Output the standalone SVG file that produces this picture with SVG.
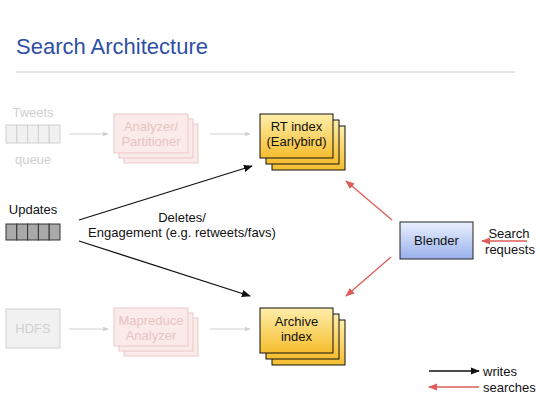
<svg xmlns="http://www.w3.org/2000/svg" width="540" height="400" viewBox="0 0 540 400">
<defs>
<linearGradient id="gold" x1="0" y1="0" x2="0" y2="1"><stop offset="0" stop-color="#ffeeaa"/><stop offset="1" stop-color="#f5bd2e"/></linearGradient>
<linearGradient id="blue" x1="0" y1="0" x2="0" y2="1"><stop offset="0" stop-color="#eaf0fd"/><stop offset="1" stop-color="#98b0ec"/></linearGradient>
<marker id="ab" viewBox="0 0 10 10" refX="9" refY="5" markerWidth="7" markerHeight="7" orient="auto"><path d="M0,1 L10,5 L0,9 z" fill="#111"/></marker>
<marker id="ar" viewBox="0 0 10 10" refX="9" refY="5" markerWidth="7" markerHeight="7" orient="auto"><path d="M0,1 L10,5 L0,9 z" fill="#dd5e58"/></marker>
<marker id="ag" viewBox="0 0 10 10" refX="9" refY="5" markerWidth="6" markerHeight="6" orient="auto"><path d="M0,1 L10,5 L0,9 z" fill="#d0d0d0"/></marker>
<style>
text{font-family:"Liberation Sans",Arial,sans-serif;font-size:13px;text-anchor:middle;fill:#111}
.t{font-size:22px;fill:#2f4ea6;text-anchor:start}
.fg{fill:#cfcfcf}
.fp{fill:#e8c3c3}
.gcell{fill:#f1f1f1;stroke:#d0d0d0;stroke-width:1}
.dcell{fill:#a9a9a9;stroke:#333;stroke-width:1}
.pbox{fill:#fbeaea;stroke:#ecc9c9;stroke-width:1}
.ybox{fill:url(#gold);stroke:#111;stroke-width:1}
.bbox{fill:url(#blue);stroke:#222;stroke-width:1}
.w{stroke:#111;stroke-width:1.3;fill:none;marker-end:url(#ab)}
.s{stroke:#dd5e58;stroke-width:1.3;fill:none;marker-end:url(#ar)}
.g{stroke:#d0d0d0;stroke-width:1;fill:none;marker-end:url(#ag)}
</style>
</defs>
<rect width="540" height="400" fill="#fff"/>
<text class="t" x="16" y="54">Search Architecture</text>
<line x1="16" y1="72" x2="515" y2="72" stroke="#cccccc" stroke-width="1"/>

<g id="tweets">
<text class="fg" x="33" y="117">Tweets</text>
<rect class="gcell" x="6" y="125" width="10.8" height="18"/><rect class="gcell" x="16.8" y="125" width="10.8" height="18"/><rect class="gcell" x="27.6" y="125" width="10.8" height="18"/><rect class="gcell" x="38.4" y="125" width="10.8" height="18"/><rect class="gcell" x="49.2" y="125" width="10.8" height="18"/>
<text class="fg" x="33" y="164">queue</text>
</g>
<g id="analyzer">
<rect class="pbox" x="124" y="124" width="74" height="39"/><rect class="pbox" x="119" y="119" width="74" height="39"/><rect class="pbox" x="114" y="114" width="74" height="39"/>
<text class="fp" x="151" y="131">Analyzer/</text><text class="fp" x="151" y="146">Partitioner</text>
</g>
<g id="rtindex">
<rect class="ybox" x="272" y="126" width="73" height="44"/><rect class="ybox" x="266" y="120" width="73" height="44"/><rect class="ybox" x="260" y="114" width="73" height="44"/>
<text x="296.5" y="131">RT index</text><text x="296.5" y="146">(Earlybird)</text>
</g>
<g id="updates">
<text x="33" y="214">Updates</text>
<rect class="dcell" x="6" y="224" width="10.8" height="16"/><rect class="dcell" x="16.8" y="224" width="10.8" height="16"/><rect class="dcell" x="27.6" y="224" width="10.8" height="16"/><rect class="dcell" x="38.4" y="224" width="10.8" height="16"/><rect class="dcell" x="49.2" y="224" width="10.8" height="16"/>
</g>
<g id="hdfs">
<rect class="gcell" x="6" y="309" width="54" height="39"/>
<text class="fg" x="33" y="333">HDFS</text>
</g>
<g id="mapreduce">
<rect class="pbox" x="124" y="318" width="74" height="38"/><rect class="pbox" x="119" y="313" width="74" height="38"/><rect class="pbox" x="114" y="308" width="74" height="38"/>
<text class="fp" x="151" y="325">Mapreduce</text><text class="fp" x="151" y="340">Analyzer</text>
</g>
<g id="archive">
<rect class="ybox" x="272" y="320" width="73" height="45"/><rect class="ybox" x="266" y="314" width="73" height="45"/><rect class="ybox" x="260" y="308" width="73" height="45"/>
<text x="296.5" y="326">Archive</text><text x="296.5" y="341">index</text>
</g>
<g id="blender">
<rect class="bbox" x="400" y="222" width="73" height="37"/>
<text x="436.5" y="245">Blender</text>
</g>
<g id="search-requests">
<text x="509" y="238">Search</text><text x="510" y="254">requests</text>
</g>
<g id="legend">
<text x="483" y="376" style="text-anchor:start">writes</text>
<text x="483" y="392" style="text-anchor:start">searches</text>
</g>
<g id="connectors">
<line class="g" x1="69" y1="134" x2="108" y2="134"/>
<line class="g" x1="210" y1="134" x2="250" y2="134"/>
<line class="g" x1="69" y1="329" x2="108" y2="329"/>
<line class="g" x1="210" y1="329" x2="250" y2="329"/>
<line class="w" x1="79" y1="220" x2="252" y2="166"/>
<line class="w" x1="79" y1="241" x2="250" y2="296"/>
<line class="s" x1="392" y1="220" x2="346" y2="181"/>
<line class="s" x1="391" y1="257" x2="346" y2="296"/>
<line class="s" x1="527" y1="241" x2="482" y2="241"/>
<line class="w" x1="429" y1="371" x2="479" y2="371"/>
<line class="s" x1="479" y1="387" x2="429" y2="387"/>
<text x="182" y="222">Deletes/</text>
<text x="182" y="237">Engagement (e.g. retweets/favs)</text>
</g>
</svg>
